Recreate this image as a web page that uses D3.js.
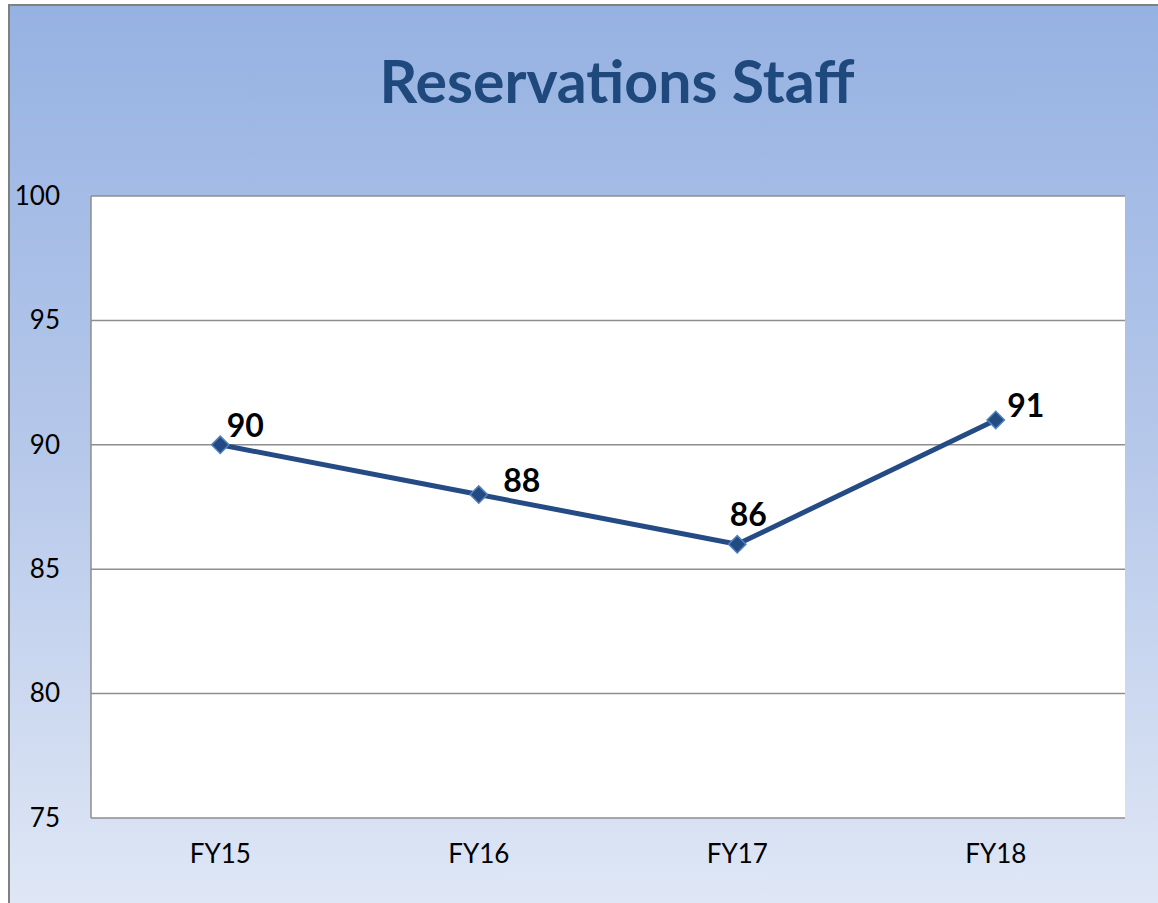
<!DOCTYPE html>
<html>
<head>
<meta charset="utf-8">
<script src="https://cdn.jsdelivr.net/npm/d3@7"></script>
<style>
html,body{margin:0;padding:0;background:#fff;}
svg{display:block;}
</style>
</head>
<body>
<script>
const categories = ["FY15", "FY16", "FY17", "FY18"];
const values = [90, 88, 86, 91];
const yTicks = [75, 80, 85, 90, 95, 100];
const title = "Reservations Staff";

(function () {
const W = 1158, H = 903;
const svg = d3.select("body").append("svg").attr("width", W).attr("height", H);
const defs = svg.append("defs");
const grad = defs.append("linearGradient").attr("id", "bg").attr("x1", 0).attr("y1", 0).attr("x2", 0).attr("y2", 1);
grad.append("stop").attr("offset", "0%").attr("stop-color", "#96B2E2");
grad.append("stop").attr("offset", "50%").attr("stop-color", "#B6C8EA");
grad.append("stop").attr("offset", "100%").attr("stop-color", "#DFE7F5");

svg.append("rect").attr("x", 8).attr("y", 4).attr("width", W - 8).attr("height", H - 4).attr("fill", "url(#bg)");
svg.append("path").attr("d", `M9,${H} V5 H${W}`).attr("fill", "none").attr("stroke", "#808080").attr("stroke-width", 2);

svg.append("text").attr("x", 617).attr("y", 103).attr("text-anchor", "middle")
  .attr("font-family", "Lato, sans-serif").attr("font-weight", "bold").attr("font-size", 59)
  .attr("fill", "#1F497D").text(title);

const pL = 91, pR = 1125, pT = 196, pB = 818;
const x = d3.scaleBand().domain(categories).range([pL, pR]);
const y = d3.scaleLinear().domain([75, 100]).range([pB, pT]);

svg.append("rect").attr("x", pL).attr("y", pT).attr("width", pR - pL).attr("height", pB - pT).attr("fill", "#fff");

svg.append("g").selectAll("line").data(yTicks.filter(t => t > 75)).join("line")
  .attr("x1", pL).attr("x2", pR).attr("y1", d => y(d)).attr("y2", d => y(d))
  .attr("stroke", "#8E8E8E").attr("stroke-width", 1.5);
svg.append("path").attr("d", `M${pL},${pB} V${pT}`).attr("stroke", "#8E8E8E").attr("stroke-width", 1.5).attr("fill", "none");
svg.append("line").attr("x1", pL).attr("x2", pR).attr("y1", pB).attr("y2", pB).attr("stroke", "#8E8E8E").attr("stroke-width", 1.5);

const yAxis = d3.axisLeft(y).tickValues(yTicks).tickSize(0).tickPadding(31);
const gy = svg.append("g").attr("transform", `translate(${pL},0)`).call(yAxis);
gy.select(".domain").remove();
gy.selectAll("text").attr("font-family", "Lato, sans-serif").attr("font-size", 26).attr("fill", "#000");

const xAxis = d3.axisBottom(x).tickSize(0).tickPadding(27);
const gx = svg.append("g").attr("transform", `translate(0,${pB})`).call(xAxis);
gx.select(".domain").remove();
gx.selectAll("text").attr("font-family", "Lato, sans-serif").attr("font-size", 26).attr("fill", "#000");

const data = categories.map((c, i) => ({c, v: values[i]}));
const cx = d => x(d.c) + x.bandwidth() / 2;
const line = d3.line().x(cx).y(d => y(d.v));
svg.append("path").datum(data).attr("d", line).attr("fill", "none")
  .attr("stroke", "#254B84").attr("stroke-width", 5).attr("stroke-linejoin", "round");

svg.append("g").selectAll("path").data(data).join("path")
  .attr("d", d3.symbol(d3.symbolSquare, 150)())
  .attr("transform", d => `translate(${cx(d)},${y(d.v)}) rotate(45)`)
  .attr("fill", "#234A83").attr("stroke", "#4F81BD").attr("stroke-width", 1.5);

const labelOffsets = [[25, -19], [43, -14], [11, -30], [30, -14]];
svg.append("g").selectAll("text").data(data).join("text")
  .attr("x", (d, i) => cx(d) + labelOffsets[i][0])
  .attr("y", (d, i) => y(d.v) + labelOffsets[i][1])
  .attr("dy", "0.35em").attr("text-anchor", "middle")
  .attr("font-family", "Lato, sans-serif").attr("font-weight", "bold").attr("font-size", 32)
  .attr("fill", "#000").text(d => d.v);
})();
</script>
</body>
</html>
